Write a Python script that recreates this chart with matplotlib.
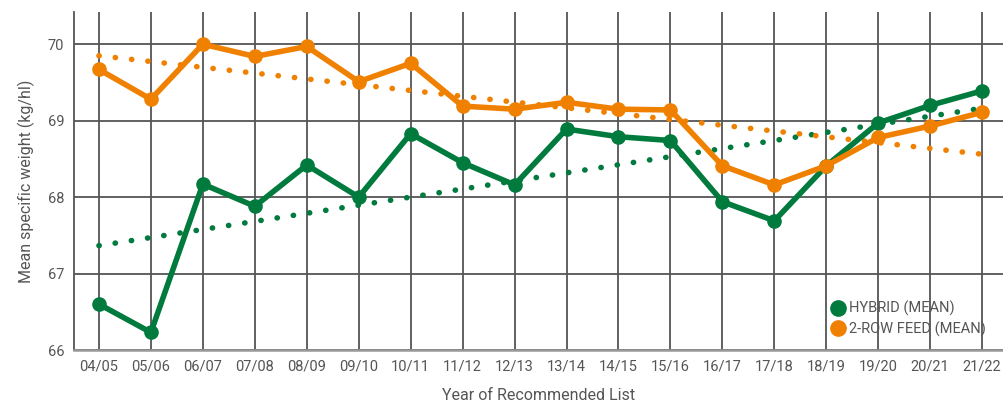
import numpy as np
import matplotlib
matplotlib.use("Agg")
import matplotlib.pyplot as plt

plt.rcParams["font.family"] = ["Roboto", "DejaVu Sans"]

anos = ["04/05", "05/06", "06/07", "07/08", "08/09", "09/10", "10/11", "11/12", "12/13",
        "13/14", "14/15", "15/16", "16/17", "17/18", "18/19", "19/20", "20/21", "21/22"]
hybrid = [66.60, 66.23, 68.17, 67.88, 68.42, 68.00, 68.83, 68.45, 68.16,
          68.89, 68.79, 68.74, 67.94, 67.69, 68.41, 68.97, 69.20, 69.39]
feed = [69.67, 69.28, 70.00, 69.84, 69.97, 69.51, 69.75, 69.19, 69.15,
        69.24, 69.15, 69.14, 68.41, 68.16, 68.41, 68.78, 68.93, 69.11]
yticks = [66, 67, 68, 69, 70]

verde = "#007A3D"
laranja = "#F08100"
cinza = "#555555"

x = np.arange(len(anos))

fig = plt.figure(figsize=(10.04, 4.03), dpi=100)
ax = fig.add_axes([0.0737, 0.1315, 0.9263, 0.8385])

# linhas de tendencia (ajuste linear)
for serie, cor in [(hybrid, verde), (feed, laranja)]:
    a, b = np.polyfit(x, serie, 1)
    ax.plot(x, a * x + b, color=cor, lw=4.0, linestyle=(0, (0.05, 2.9)),
            dash_capstyle="round", zorder=3)

ax.plot(x, hybrid, color=verde, lw=4.0, marker="o", ms=9.5, zorder=4, label="HYBRID (MEAN)")
ax.plot(x, feed, color=laranja, lw=4.0, marker="o", ms=9.5, zorder=4, label="2-ROW FEED (MEAN)")

ax.set_xlim(-0.48, 17.42)
ax.set_ylim(66, 70.42)
ax.set_xticks(x)
ax.set_xticklabels(anos)
ax.set_yticks(yticks)
ax.grid(True, color=cinza, lw=1.3, zorder=1)
ax.tick_params(length=0, labelsize=10.5, colors=cinza, pad=7)
for s in ["top", "right"]:
    ax.spines[s].set_visible(False)
ax.spines["left"].set_color(cinza)
ax.spines["left"].set_linewidth(1.3)
ax.spines["bottom"].set_color("#999999")
ax.spines["bottom"].set_linewidth(1.8)

ax.set_xlabel("Year of Recommended List", fontsize=11.5, color=cinza, labelpad=10)
ax.set_ylabel("Mean specific weight (kg/hl)", fontsize=11.5, color=cinza, labelpad=9)

leg = ax.legend(loc="lower right", bbox_to_anchor=(0.995, 0.0), frameon=False,
                fontsize=10.5, handlelength=0.8, handletextpad=0.4, labelspacing=0.35,
                labelcolor=cinza)
for h in leg.legend_handles:
    h.set_linestyle("none")
    h.set_markersize(11)

fig.savefig("out.png", dpi=100)
